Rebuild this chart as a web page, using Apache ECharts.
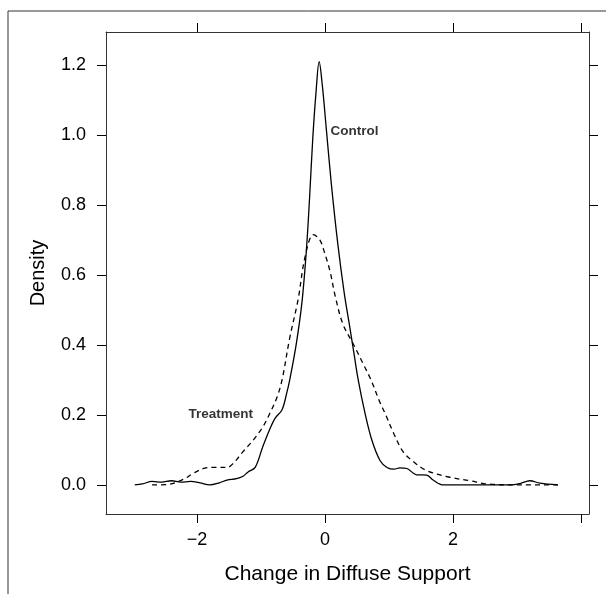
<!DOCTYPE html>
<html>
<head>
<meta charset="utf-8">
<script src="https://cdn.jsdelivr.net/npm/echarts@6/dist/echarts.min.js"></script>
<style>
  html, body { margin: 0; padding: 0; background: #fff; }
  #chart { width: 606px; height: 594px; }
</style>
</head>
<body>
<div id="chart"></div>
<script>
// density estimates: [x, density]
var controlDensity = [
  [-2.97, 0], [-2.85, 0.003], [-2.7, 0.01], [-2.55, 0.008], [-2.4, 0.012],
  [-2.25, 0.008], [-2.1, 0.01], [-1.95, 0.006], [-1.8, 0.0], [-1.65, 0.006],
  [-1.53, 0.014], [-1.38, 0.018], [-1.28, 0.025], [-1.2, 0.037], [-1.09, 0.05],
  [-0.97, 0.11], [-0.86, 0.16], [-0.78, 0.19], [-0.67, 0.215], [-0.6, 0.26],
  [-0.55, 0.30], [-0.45, 0.40], [-0.36, 0.52], [-0.29, 0.67], [-0.24, 0.82],
  [-0.19, 0.99], [-0.14, 1.12], [-0.09, 1.209], [-0.04, 1.14], [0.02, 1.02],
  [0.1, 0.86], [0.2, 0.69], [0.3, 0.55], [0.38, 0.46], [0.45, 0.38],
  [0.52, 0.30], [0.62, 0.21], [0.73, 0.13], [0.86, 0.07], [0.97, 0.05],
  [1.08, 0.045], [1.17, 0.049], [1.28, 0.047], [1.43, 0.029], [1.59, 0.028],
  [1.69, 0.014], [1.85, 0], [2.9, 0], [3.05, 0.004], [3.2, 0.012],
  [3.36, 0.005], [3.64, 0]
];
var treatmentDensity = [
  [-2.7, 0], [-2.47, 0.001], [-2.2, 0.017], [-2.06, 0.033], [-1.875, 0.048],
  [-1.75, 0.05], [-1.53, 0.05], [-1.43, 0.062], [-1.28, 0.095], [-1.12, 0.128],
  [-0.97, 0.166], [-0.86, 0.205], [-0.75, 0.25], [-0.67, 0.30], [-0.55, 0.42],
  [-0.42, 0.529], [-0.31, 0.652], [-0.18, 0.715], [-0.08, 0.70], [0, 0.66],
  [0.08, 0.61], [0.16, 0.54], [0.28, 0.46], [0.45, 0.40], [0.6, 0.345],
  [0.72, 0.30], [0.85, 0.24], [0.95, 0.20], [1.08, 0.145], [1.22, 0.095],
  [1.38, 0.067], [1.59, 0.041], [1.95, 0.022], [2.27, 0.012], [2.53, 0.003],
  [3.0, 0], [3.64, 0]
];
var xTicks = [-2, 0, 2, 4];
var xLabels = [-2, 0, 2];
var yTicks = [0, 0.2, 0.4, 0.6, 0.8, 1.0, 1.2];
var curveLabels = [['Control', 0.08, 1.01], ['Treatment', -2.14, 0.203]];

var chart = echarts.init(document.getElementById('chart'), null, { renderer: 'canvas' });
var FONT = '"Liberation Sans", Arial, Helvetica, sans-serif';
var AX = '#333';

function xAxisDef(pos, showLabels) {
  return {
    type: 'value', position: pos, min: -3.42, max: 4.125,
    splitLine: { show: false },
    axisLine: { show: true, onZero: false, lineStyle: { color: AX, width: 1 } },
    axisTick: { show: true, length: 9, customValues: xTicks, lineStyle: { color: '#000', width: 1 } },
    axisLabel: {
      show: showLabels, customValues: xLabels, margin: 17,
      fontFamily: FONT, fontSize: 18, color: '#000',
      formatter: function (v) { return v < 0 ? '\u2212' + Math.abs(v) : String(v); }
    },
    name: showLabels ? 'Change in Diffuse Support' : '',
    nameLocation: 'middle', nameGap: 50,
    nameTextStyle: { fontFamily: FONT, fontSize: 21, color: '#000' }
  };
}
function yAxisDef(pos, showLabels) {
  return {
    type: 'value', position: pos, min: -0.083, max: 1.294,
    splitLine: { show: false },
    axisLine: { show: true, onZero: false, lineStyle: { color: AX, width: 1 } },
    axisTick: { show: true, length: 9, customValues: yTicks, lineStyle: { color: '#000', width: 1 } },
    axisLabel: {
      show: showLabels, customValues: yTicks, margin: 20,
      fontFamily: FONT, fontSize: 18, color: '#000',
      formatter: function (v) { return v.toFixed(1); }
    },
    name: showLabels ? 'Density' : '',
    nameLocation: 'middle', nameGap: 58, nameRotate: 90,
    nameTextStyle: { fontFamily: FONT, fontSize: 20, color: '#000' }
  };
}

var option = {
  animation: false,
  backgroundColor: '#fff',
  grid: { left: 106, top: 32, width: 483, height: 482, containLabel: false },
  xAxis: [xAxisDef('bottom', true), xAxisDef('top', false)],
  yAxis: [yAxisDef('left', true), yAxisDef('right', false)],
  graphic: [{
    type: 'rect', shape: { x: 8, y: 11, width: 700, height: 700 },
    style: { fill: null, stroke: '#333', lineWidth: 1 }, silent: true
  }],
  series: [
    {
      name: 'Control', type: 'line', data: controlDensity,
      showSymbol: false, smooth: 0.35,
      lineStyle: { color: '#000', width: 1.3, type: 'solid' }
    },
    {
      name: 'Treatment', type: 'line', data: treatmentDensity,
      showSymbol: false, smooth: 0.35,
      lineStyle: { color: '#000', width: 1.3, type: [5, 4] }
    },
    {
      name: 'labels', type: 'scatter', silent: true,
      data: curveLabels.map(function (l) { return { name: l[0], value: [l[1], l[2]] }; }),
      symbolSize: 1, itemStyle: { color: 'rgba(0,0,0,0)' },
      label: {
        show: true, position: 'right', distance: 0,
        formatter: function (p) { return p.name; },
        fontFamily: FONT, fontSize: 13.5, fontWeight: 'bold', color: '#000'
      }
    }
  ]
};
option && chart.setOption(option);
</script>
</body>
</html>
